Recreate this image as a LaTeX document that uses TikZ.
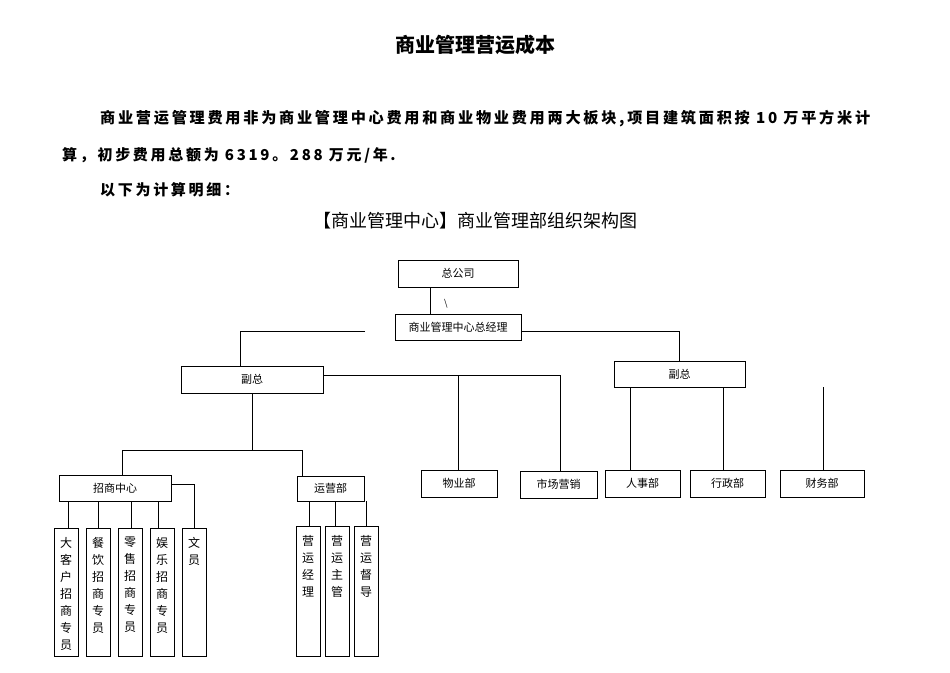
\documentclass[tikz,border=0pt]{standalone}
\usepackage{fontspec}
\setmainfont{Noto Sans CJK SC}
\begin{document}
\begin{tikzpicture}[x=1pt,y=-1pt,
  bx/.style={draw,line width=0.8pt,inner sep=0pt,font=\fontsize{11}{13}\selectfont},
  vb/.style={draw,line width=0.8pt,inner sep=0pt,anchor=north west,font=\fontsize{12}{17}\selectfont,align=center,text depth=0pt},
  ln/.style={line width=0.7pt}]
\useasboundingbox (0,0) rectangle (950,672);
\node[font=\fontsize{20}{24}\selectfont\bfseries] (title) at (475,45) {商业管理营运成本};
\node[anchor=west,font=\fontsize{15}{18}\selectfont\bfseries,inner sep=0pt] (p1) at (100,119) {\resizebox{770pt}{!}{\addfontfeatures{LetterSpace=18}商业营运管理费用非为商业管理中心费用和商业物业费用两大板块,项目建筑面积按 10 万平方米计}};
\node[anchor=west,font=\fontsize{15}{18}\selectfont\bfseries,inner sep=0pt] (p2) at (62,155) {\addfontfeatures{LetterSpace=18}算，初步费用总额为 6319。288 万元/年.};
\node[anchor=west,font=\fontsize{15}{18}\selectfont\bfseries,inner sep=0pt] (p3) at (100,190) {\addfontfeatures{LetterSpace=18}以下为计算明细：};
\node[font=\fontsize{18}{22}\selectfont] (sub) at (475,221) {【商业管理中心】商业管理部组织架构图};

\node[bx,minimum width=120pt,minimum height=27pt] (hq) at (458,273.5) {总公司};
\node[bx,minimum width=126pt,minimum height=26pt] (gm) at (458,327) {商业管理中心总经理};
\node[bx,minimum width=142pt,minimum height=27pt] (vl) at (252,379.5) {副总};
\node[bx,minimum width=131pt,minimum height=26pt] (vr) at (679.5,374) {副总};
\node[bx,minimum width=76pt,minimum height=27pt] (wy) at (459,483.5) {物业部};
\node[bx,minimum width=77pt,minimum height=27pt] (sc) at (558.5,484.5) {市场营销};
\node[bx,minimum width=75pt,minimum height=27pt] (rs) at (642.5,483.5) {人事部};
\node[bx,minimum width=75pt,minimum height=27pt] (xz) at (727.5,483.5) {行政部};
\node[bx,minimum width=84pt,minimum height=27pt] (cw) at (822,483.5) {财务部};
\node[bx,minimum width=112pt,minimum height=26pt] (zs) at (115,488) {招商中心};
\node[bx,minimum width=67pt,minimum height=25pt] (yy) at (330.5,488.5) {运营部};

\foreach \n/\x in {a/54,b/86,c/118,d/150,e/182}
  \node[vb,minimum width=24pt,minimum height=128pt] (\n) at (\x,528) {};
\foreach \n/\x/\t in {a/66/大\\客\\户\\招\\商\\专\\员, b/98/餐\\饮\\招\\商\\专\\员, c/130/零\\售\\招\\商\\专\\员, d/162/娱\\乐\\招\\商\\专\\员, e/194/文\\员}
  \node[anchor=north,font=\fontsize{12}{17}\selectfont,align=center,inner sep=0pt] (t\n) at (\x,537) {\t};
\foreach \n/\x in {f/296,g/325,h/354}
  \node[vb,minimum width=24pt,minimum height=130pt] (\n) at (\x,526) {};
\foreach \n/\x/\t in {f/308/营\\运\\经\\理, g/337/营\\运\\主\\管, h/366/营\\运\\督\\导}
  \node[anchor=north,font=\fontsize{12}{17}\selectfont,align=center,inner sep=0pt] (t\n) at (\x,535) {\t};

\draw[ln] (hq.south -| 430,0) -- (gm.north -| 430,0);
\node[font=\fontsize{9}{9}\selectfont,inner sep=0pt] (bs) at (446,304) {\textbackslash};
\coordinate (gl) at (365,331);
\draw[ln] (gl) -| (vl.north -| 240,0);
\draw[ln] (gm.east |- 0,331) -| (vr.north);
\draw[ln] (vl.east |- 0,375) -- (560,375);
\draw[ln] (458,375) -- (458,470);
\draw[ln] (560,375) -- (sc.north -| 560,0);
\draw[ln] (vr.south -| 630,0) -- (rs.north -| 630,0);
\draw[ln] (vr.south -| 723,0) -- (xz.north -| 723,0);
\draw[ln] (vr.south -| 823,0) -- (cw.north -| 823,0);
\draw[ln] (vl.south) -- (252,450);
\draw[ln] (zs.north -| 122,0) |- (302,450) -- (yy.north -| 302,0);
\foreach \n/\x in {a/68,b/98,c/131,d/158}
  \draw[ln] (zs.south -| \x,0) -- (\n.north -| \x,0);
\draw[ln] (zs.east |- 0,484) -| (e.north -| 194,0);
\foreach \n/\x in {f/309,g/335,h/366}
  \draw[ln] (yy.south -| \x,0) -- (\n.north -| \x,0);
\end{tikzpicture}
\end{document}
